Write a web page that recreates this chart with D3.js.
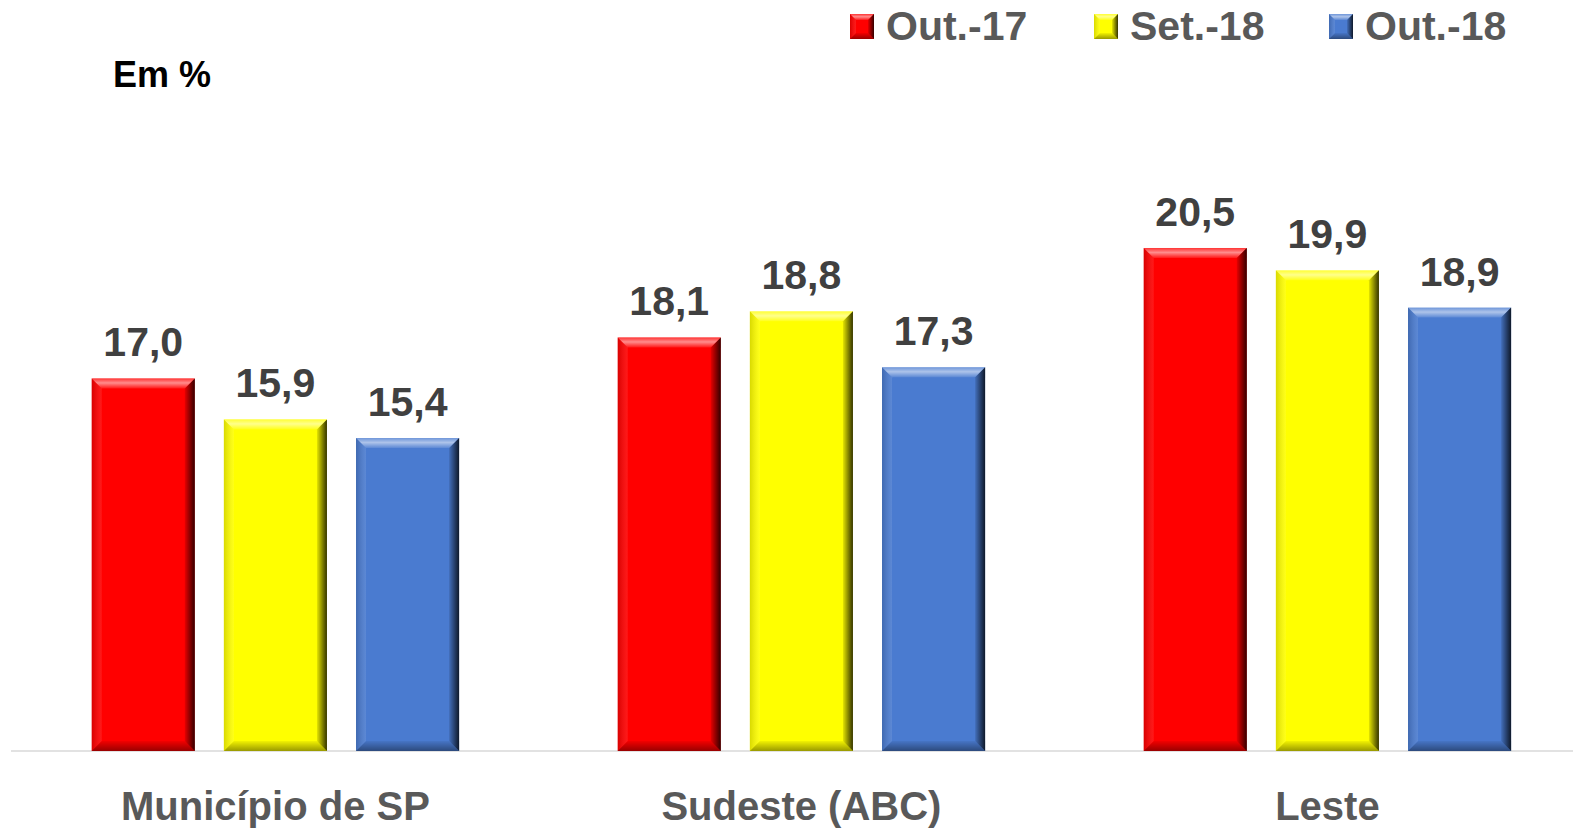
<!DOCTYPE html>
<html lang="pt-BR">
<head>
<meta charset="UTF-8">
<title>Em %</title>
<script src="https://cdn.jsdelivr.net/npm/d3@7.8.5/dist/d3.min.js"></script>
<style>
  html, body { margin: 0; padding: 0; background: #fff; }
  svg text { font-family: 'Liberation Sans', Arial, sans-serif; font-weight: bold; }
</style>
</head>
<body>
<svg id="chart" width="1573" height="829"></svg>
<script>
// dados
const categories = ["Município de SP", "Sudeste (ABC)", "Leste"];
const seriesNames = ["Out.-17", "Set.-18", "Out.-18"];
const seriesColors = ["#ff0000", "#ffff00", "#4a7bd0"];
const valOut17 = [17.0, 18.1, 20.5];
const valSet18 = [15.9, 18.8, 19.9];
const valOut18 = [15.4, 17.3, 18.9];
const seriesValues = [valOut17, valSet18, valOut18];

const W = 1573, H = 829;
const svg = d3.select('#chart');

// gradientes para efeito chanfrado
const defs = svg.append('defs');
const gTop = defs.append('linearGradient').attr('id', 'bTop').attr('x1', 0).attr('y1', 0).attr('x2', 0).attr('y2', 1);
gTop.append('stop').attr('offset', '0%').attr('stop-color', '#fff').attr('stop-opacity', 0.2);
gTop.append('stop').attr('offset', '45%').attr('stop-color', '#fff').attr('stop-opacity', 0.55);
gTop.append('stop').attr('offset', '100%').attr('stop-color', '#fff').attr('stop-opacity', 0.1);
const gRight = defs.append('linearGradient').attr('id', 'bRight').attr('x1', 0).attr('y1', 0).attr('x2', 1).attr('y2', 0);
gRight.append('stop').attr('offset', '0%').attr('stop-color', '#000').attr('stop-opacity', 0.1);
gRight.append('stop').attr('offset', '100%').attr('stop-color', '#000').attr('stop-opacity', 0.8);
const gBottom = defs.append('linearGradient').attr('id', 'bBottom').attr('x1', 0).attr('y1', 0).attr('x2', 0).attr('y2', 1);
gBottom.append('stop').attr('offset', '0%').attr('stop-color', '#000').attr('stop-opacity', 0.05);
gBottom.append('stop').attr('offset', '100%').attr('stop-color', '#000').attr('stop-opacity', 0.4);
const gLeft = defs.append('linearGradient').attr('id', 'bLeft').attr('x1', 0).attr('y1', 0).attr('x2', 1).attr('y2', 0);
gLeft.append('stop').attr('offset', '0%').attr('stop-color', '#000').attr('stop-opacity', 0.15);
gLeft.append('stop').attr('offset', '100%').attr('stop-color', '#fff').attr('stop-opacity', 0.1);

function bevel(g, x, y, w, h, color, b) {
  g.append('rect').attr('x', x).attr('y', y).attr('width', w).attr('height', h).attr('fill', color);
  const pts = a => a.map(p => p.join(',')).join(' ');
  g.append('polygon').attr('points', pts([[x, y], [x + w, y], [x + w - b, y + b], [x + b, y + b]])).attr('fill', 'url(#bTop)');
  g.append('polygon').attr('points', pts([[x + w, y], [x + w, y + h], [x + w - b, y + h - b], [x + w - b, y + b]])).attr('fill', 'url(#bRight)');
  g.append('polygon').attr('points', pts([[x, y + h], [x + w, y + h], [x + w - b, y + h - b], [x + b, y + h - b]])).attr('fill', 'url(#bBottom)');
  g.append('polygon').attr('points', pts([[x, y], [x + b, y + b], [x + b, y + h - b], [x, y + h]])).attr('fill', 'url(#bLeft)');
}

// escalas
const x0 = d3.scaleBand().domain(categories).range([12.4, 1590.4]).padding(0);
const x1 = d3.scaleBand().domain(seriesNames).range([0, x0.bandwidth()]).paddingInner(0.22).paddingOuter(0.6);
const y = d3.scaleLinear().domain([7, 22]).range([751, 751 - 15 * 37.26]);

// linha base
svg.append('line').attr('x1', 11).attr('x2', W).attr('y1', y(7)).attr('y2', y(7))
  .attr('stroke', '#d9d9d9').attr('stroke-width', 1.5);

// barras
const bars = svg.append('g');
categories.forEach((c, ci) => {
  seriesNames.forEach((s, si) => {
    const v = seriesValues[si][ci];
    const bx = x0(c) + x1(s);
    const bw = x1.bandwidth();
    const by = y(v);
    const g = bars.append('g');
    bevel(g, bx, by, bw, y(7) - by, seriesColors[si], 10);
    bars.append('text')
      .attr('x', bx + bw / 2).attr('y', by - 22)
      .attr('text-anchor', 'middle')
      .attr('fill', '#404040').style('font-size', '41px')
      .text(v.toFixed(1).replace('.', ','));
  });
});

// rótulos das categorias
svg.append('g').selectAll('text').data(categories).join('text')
  .attr('x', d => x0(d) + x0.bandwidth() / 2).attr('y', 820)
  .attr('text-anchor', 'middle').attr('fill', '#595959').style('font-size', '40px')
  .text(d => d);

// título
svg.append('text').attr('x', 113).attr('y', 87).attr('fill', '#000').style('font-size', '36px').text('Em %');

// legenda
const legendX = [850, 1094, 1329];
const legend = svg.append('g');
seriesNames.forEach((s, i) => {
  const g = legend.append('g');
  bevel(g, legendX[i], 14, 24, 25, seriesColors[i], 6);
  legend.append('text').attr('x', legendX[i] + 36).attr('y', 40)
    .attr('fill', '#595959').style('font-size', '41px').text(s);
});
</script>
</body>
</html>
